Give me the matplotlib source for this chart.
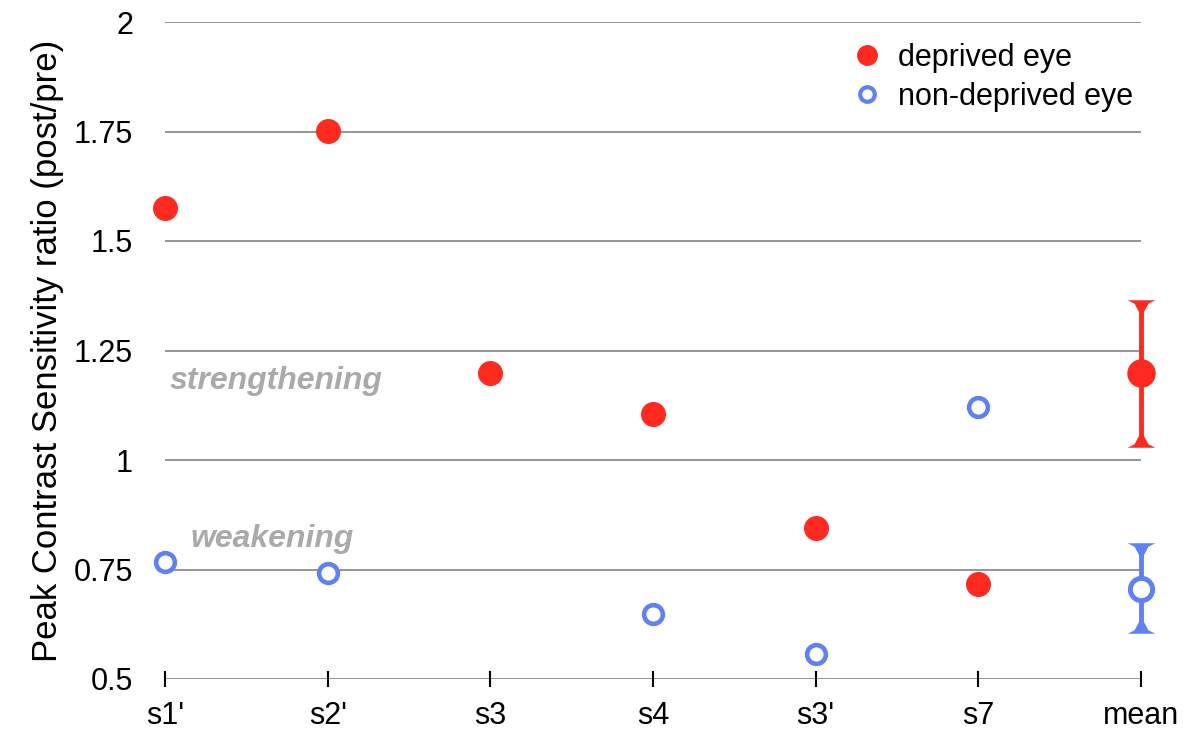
import matplotlib
matplotlib.use("Agg")
import matplotlib.pyplot as plt
from matplotlib.lines import Line2D

plt.rcParams['font.family'] = ['Liberation Sans', 'DejaVu Sans']

categories = ["s1'", "s2'", "s3", "s4", "s3'", "s7", "mean"]
subjects = categories[:-1]
deprived = [1.575, 1.752, 1.199, 1.105, 0.845, 0.717]
nondeprived = [0.767, 0.742, None, 0.648, 0.557, 1.121]
deprived_mean = 1.199
deprived_err = [1.043, 1.352]
nondeprived_mean = 0.705
nondeprived_err = [0.619, 0.796]
yticks = [0.5, 0.75, 1.0, 1.25, 1.5, 1.75, 2.0]
yticklabels = ["0.5", "0.75", "1", "1.25", "1.5", "1.75", "2"]

RED = '#ff2a1f'
BLUE = '#6080f5'

cap_top = [(-1, 0.45), (1, 0.45), (0.5, 0.2), (0.15, -0.45), (-0.15, -0.45), (-0.5, 0.2), (-1, 0.45)]
cap_bot = [(x, -y) for x, y in cap_top]

fig = plt.figure(figsize=(11.84, 7.29), dpi=100)
ax = fig.add_axes([165/1184, 1-679/729, (1141-165)/1184, (679-22)/729])
ax.set_xlim(0, 6)
ax.set_ylim(0.5, 2.0)

for y in yticks:
    ax.axhline(y, color='#8c8c8c', lw=1.3, zorder=1)

for s in ax.spines.values():
    s.set_visible(False)

xs = list(range(len(subjects)))
ax.plot(xs, deprived, 'o', ms=17, color=RED, mec=RED, clip_on=False, zorder=5, ls='none')
nx = [i for i, v in enumerate(nondeprived) if v is not None]
ny = [v for v in nondeprived if v is not None]
ax.plot(nx, ny, 'o', ms=13.5, mfc='white', mec=BLUE, mew=3.3, clip_on=False, zorder=5, ls='none')

mx = len(categories) - 1
for mean, err, col, filled in [(deprived_mean, deprived_err, RED, True),
                               (nondeprived_mean, nondeprived_err, BLUE, False)]:
    ax.plot([mx, mx], err, color=col, lw=3.5, clip_on=False, zorder=4)
    ax.plot([mx], [err[1]], marker=cap_top, ms=20, color=col, mew=0, clip_on=False, zorder=4)
    ax.plot([mx], [err[0]], marker=cap_bot, ms=20, color=col, mew=0, clip_on=False, zorder=4)
    if filled:
        ax.plot([mx], [mean], 'o', ms=19.5, color=col, clip_on=False, zorder=5)
    else:
        ax.plot([mx], [mean], 'o', ms=16, mfc='white', mec=col, mew=3.6, clip_on=False, zorder=5)

ax.set_xticks(range(len(categories)))
ax.set_xticklabels(categories, fontsize=22)
ax.tick_params(axis='x', direction='inout', length=12, width=1.5, color='black', pad=10)
ax.set_yticks(yticks)
ax.set_yticklabels(yticklabels, fontsize=22)
ax.tick_params(axis='y', length=0, pad=23)
ax.set_ylabel("Peak Contrast Sensitivity ratio (post/pre)", fontsize=25, labelpad=7)

ax.text(0.03, 1.18, "strengthening", fontsize=23, fontweight='bold', style='italic',
        color='#a9abab', va='center', ha='left')
ax.text(0.155, 0.82, "weakening", fontsize=23, fontweight='bold', style='italic',
        color='#a9abab', va='center', ha='left')

handles = [Line2D([], [], ls='none', marker='o', ms=14, color=RED),
           Line2D([], [], ls='none', marker='o', ms=10.5, mfc='white', mec=BLUE, mew=3)]
leg = ax.legend(handles, ["deprived eye", "non-deprived eye"], loc='upper right',
                bbox_to_anchor=(1.02, 1.01), frameon=False, fontsize=22,
                handletextpad=0.4, labelspacing=0.3, handlelength=1.2)

fig.savefig("out.png", dpi=100, facecolor='white')
